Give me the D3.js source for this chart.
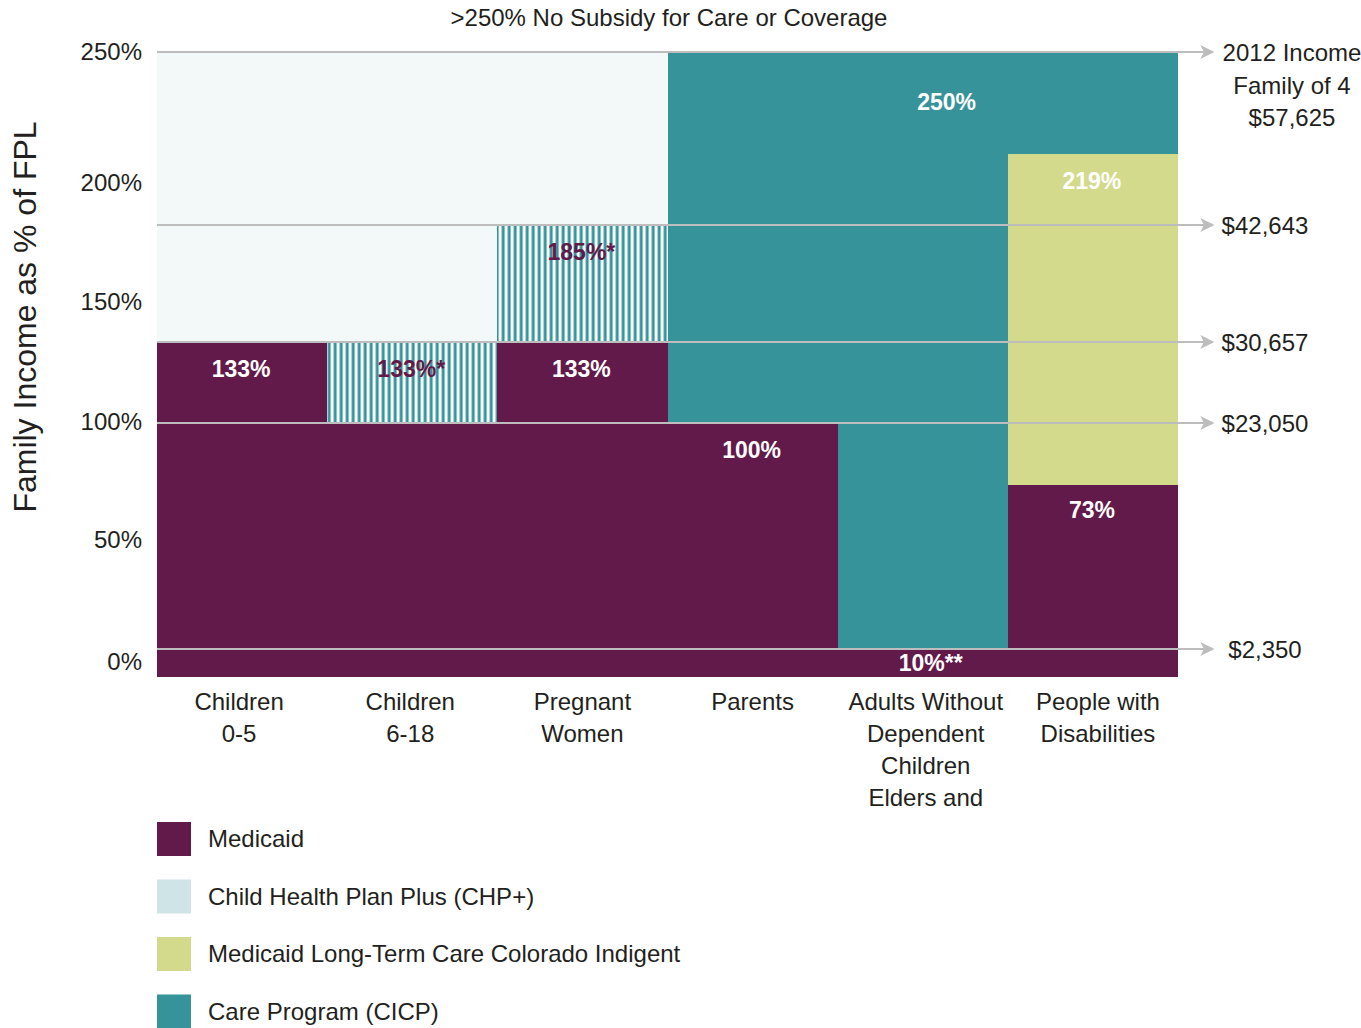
<!DOCTYPE html>
<html>
<head>
<meta charset="utf-8">
<script src="https://cdn.jsdelivr.net/npm/d3@7/dist/d3.min.js"></script>
<style>
  html, body { margin: 0; padding: 0; background: #ffffff; }
  svg { display: block; font-family: "Liberation Sans", Arial, Helvetica, sans-serif; }
</style>
</head>
<body>
<svg id="chart" width="1361" height="1028"></svg>
<script>
// Eligibility groups (x axis) and their multi-line labels
const categories = ["c05", "c618", "preg", "parents", "adults", "disab"];
const categoryLabels = [
  ["Children", "0-5"],
  ["Children", "6-18"],
  ["Pregnant", "Women"],
  ["Parents"],
  ["Adults Without", "Dependent", "Children", "Elders and"],
  ["People with", "Disabilities"]
];

// Coverage bands per program, as % of the federal poverty level
const medicaidBands = [
  { cat: "c05", from: 0, to: 133 },
  { cat: "c618", from: 0, to: 100 },
  { cat: "preg", from: 0, to: 133 },
  { cat: "parents", from: 0, to: 100 },
  { cat: "adults", from: 0, to: 10 },
  { cat: "disab", from: 0, to: 73 }
];
const chpBands = [
  { cat: "c05", from: 133, to: 250 },
  { cat: "c618", from: 133, to: 250 },
  { cat: "preg", from: 185, to: 250 }
];
const chpStripedBands = [
  { cat: "c618", from: 100, to: 133 },
  { cat: "preg", from: 133, to: 185 }
];
const ltcBands = [
  { cat: "disab", from: 73, to: 219 }
];
const cicpBands = [
  { cat: "parents", from: 100, to: 250 },
  { cat: "adults", from: 10, to: 250 },
  { cat: "disab", from: 219, to: 250 }
];

// Value labels placed at the top of a band
const valueLabels = [
  { cat: "c05", value: 133, text: "133%", dark: false },
  { cat: "c618", value: 133, text: "133%*", dark: true },
  { cat: "preg", value: 185, text: "185%*", dark: true },
  { cat: "preg", value: 133, text: "133%", dark: false },
  { cat: "parents", value: 100, text: "100%", dark: false },
  { cat: "disab", value: 219, text: "219%", dark: false },
  { cat: "disab", value: 73, text: "73%", dark: false },
  { cat: "adults", value: 10, text: "10%**", dark: false },
  { cat: "adults", value: 250, text: "250%", dark: false }
];

// Income thresholds for a family of four
const thresholds = [250, 185, 133, 100, 10];
const incomeLabels = [
  ["2012 Income", "Family of 4", "$57,625"],
  ["$42,643"],
  ["$30,657"],
  ["$23,050"],
  ["$2,350"]
];

const yTicks = [0, 50, 100, 150, 200, 250];

const legendItems = [
  { name: "Medicaid", color: "#621a4a" },
  { name: "Child Health Plan Plus (CHP+)", color: "#cfe4e7" },
  { name: "Medicaid Long-Term Care Colorado Indigent", color: "#d4da8c" },
  { name: "Care Program (CICP)", color: "#37939a" }
];

const colors = {
  medicaid: "#621a4a",
  chp: "#f3f9f9",
  ltc: "#d4da8c",
  cicp: "#37939a",
  grid: "#bdbdbd",
  text: "#231f20"
};

const svg = d3.select("#chart");
const plotLeft = 157, plotRight = 1178, plotTop = 52, plotBottom = 677;

const x = d3.scaleBand().domain(categories).range([plotLeft, plotRight]).padding(0);

// Schematic (piecewise) FPL scale: the chart is not drawn strictly to scale
const y = d3.scaleLinear()
  .domain([0, 10, 73, 100, 133, 185, 219, 250])
  .range([plotBottom, 649, 485, 423, 342, 225, 154, plotTop]);

// Scale used for the printed tick labels on the left
const yAxisScale = d3.scaleLinear()
  .domain(yTicks)
  .range([662, 540, 422, 302, 183, 52]);

// Stripe pattern for the striped CHP+ bands
const defs = svg.append("defs");
const pat = defs.append("pattern")
  .attr("id", "stripes")
  .attr("patternUnits", "userSpaceOnUse")
  .attr("width", 6).attr("height", 10)
  .attr("x", x("c618"));
pat.append("rect").attr("width", 6).attr("height", 10).attr("fill", "#ffffff");
pat.append("rect").attr("x", 0.5).attr("width", 3).attr("height", 10).attr("fill", colors.cicp);

function drawBands(data, fill) {
  svg.append("g").selectAll("rect").data(data).join("rect")
    .attr("x", d => x(d.cat))
    .attr("width", x.bandwidth())
    .attr("y", d => y(d.to))
    .attr("height", d => y(d.from) - y(d.to))
    .attr("fill", fill)
    .attr("shape-rendering", "crispEdges");
}

drawBands(chpBands, colors.chp);
drawBands(cicpBands, colors.cicp);
drawBands(ltcBands, colors.ltc);
drawBands(medicaidBands, colors.medicaid);
drawBands(chpStripedBands, "url(#stripes)");

// Threshold lines with arrows pointing to income labels
defs.append("marker")
  .attr("id", "arrow")
  .attr("viewBox", "0 0 10 10")
  .attr("refX", 9).attr("refY", 5)
  .attr("markerWidth", 16).attr("markerHeight", 14)
  .attr("markerUnits", "userSpaceOnUse")
  .attr("orient", "auto")
  .append("path")
  .attr("d", "M0,0 L10,5 L0,10 L2.5,5 Z")
  .attr("fill", colors.grid);

const gGrid = svg.append("g");
gGrid.selectAll("line").data(thresholds).join("line")
  .attr("x1", plotLeft)
  .attr("x2", 1213)
  .attr("y1", d => y(d))
  .attr("y2", d => y(d))
  .attr("stroke", colors.grid)
  .attr("stroke-width", 2)
  .attr("marker-end", "url(#arrow)");

// Income labels on the right
const gIncome = svg.append("g")
  .attr("font-size", 24)
  .attr("fill", colors.text)
  .attr("text-anchor", "middle");
thresholds.forEach((t, i) => {
  const lines = incomeLabels[i];
  const cx = lines.length > 1 ? 1292 : 1265;
  const txt = gIncome.append("text")
    .attr("x", cx)
    .attr("y", y(t) + (lines.length > 1 ? 1 : 1));
  lines.forEach((ln, j) => {
    txt.append("tspan").attr("x", cx).attr("dy", j === 0 ? "0.35em" : "1.35em").text(ln);
  });
});

// Value labels
const labelOffset = { "250": 50, "10": 14, "73": 25 };
svg.append("g")
  .attr("font-size", 23)
  .attr("font-weight", "bold")
  .attr("text-anchor", "middle")
  .selectAll("text").data(valueLabels).join("text")
  .attr("x", d => {
    const c = x(d.cat) + x.bandwidth() / 2;
    if (d.value === 250) return x(d.cat) + x.bandwidth() * 0.64;
    if (d.value === 10) return c + 8;
    return c - 1;
  })
  .attr("y", d => y(d.value) + (labelOffset[d.value] !== undefined ? labelOffset[d.value] : 27))
  .attr("dy", "0.35em")
  .attr("fill", d => d.dark ? colors.medicaid : "#ffffff")
  .text(d => d.text);

// Left tick labels
svg.append("g")
  .attr("font-size", 24)
  .attr("fill", colors.text)
  .attr("text-anchor", "end")
  .selectAll("text").data(yTicks).join("text")
  .attr("x", 142)
  .attr("y", d => yAxisScale(d))
  .attr("dy", "0.35em")
  .text(d => d + "%");

// Axis title
svg.append("text")
  .attr("transform", `translate(36,${317}) rotate(-90)`)
  .attr("text-anchor", "middle")
  .attr("font-size", 32)
  .attr("fill", colors.text)
  .text("Family Income as % of FPL");

// Chart heading above the plot
svg.append("text")
  .attr("x", 669)
  .attr("y", 18)
  .attr("dy", "0.35em")
  .attr("text-anchor", "middle")
  .attr("font-size", 24)
  .attr("fill", colors.text)
  .text(">250% No Subsidy for Care or Coverage");

// Category labels
const catShift = [-3, -2, 0, 0, 3, 5];
const gCat = svg.append("g")
  .attr("font-size", 24)
  .attr("fill", colors.text)
  .attr("text-anchor", "middle");
categories.forEach((c, i) => {
  const cx = x(c) + x.bandwidth() / 2 + catShift[i];
  const t = gCat.append("text").attr("x", cx).attr("y", 702);
  categoryLabels[i].forEach((ln, j) => {
    t.append("tspan").attr("x", cx).attr("dy", j === 0 ? "0.35em" : "1.33em").text(ln);
  });
});

// Legend
const gLeg = svg.append("g").attr("transform", "translate(157,822)");
const leg = gLeg.selectAll("g").data(legendItems).join("g")
  .attr("transform", (d, i) => `translate(0,${i * 57.5})`);
leg.append("rect").attr("width", 34).attr("height", 34).attr("fill", d => d.color);
leg.append("text")
  .attr("x", 51).attr("y", 17).attr("dy", "0.35em")
  .attr("font-size", 24).attr("fill", colors.text)
  .text(d => d.name);
</script>
</body>
</html>
